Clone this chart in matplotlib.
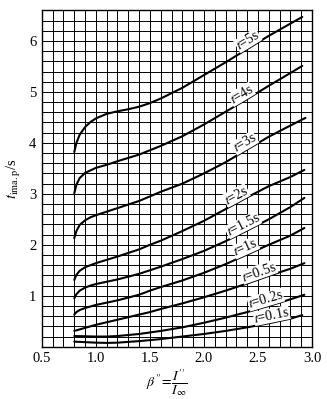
#!/usr/bin/env python3
import matplotlib
matplotlib.use("Agg")
import matplotlib.pyplot as plt
import numpy as np

plt.rcParams["font.family"] = ["Liberation Serif", "DejaVu Serif"]
plt.rcParams["mathtext.fontset"] = "stix"

# equivalent-time curves, one per short-circuit duration t
t_labels = ["5s", "4s", "3s", "2s", "1.5s", "1s", "0.5s", "0.2s", "0.1s"]

beta_5 = [0.8, 0.82, 0.85, 0.9, 0.95, 1.0, 1.1, 1.2, 1.3, 1.4, 1.5, 1.6, 1.8, 2.0, 2.2, 2.4, 2.6, 2.8, 2.91]
tima_5 = [3.82, 4.0, 4.16, 4.31, 4.41, 4.48, 4.57, 4.62, 4.66, 4.71, 4.78, 4.87, 5.08, 5.33, 5.58, 5.84, 6.10, 6.34, 6.47]

beta_4 = [0.8, 0.82, 0.85, 0.9, 0.95, 1.0, 1.1, 1.2, 1.4, 1.6, 1.8, 2.0, 2.2, 2.4, 2.6, 2.8, 2.91]
tima_4 = [3.01, 3.18, 3.31, 3.41, 3.46, 3.51, 3.57, 3.64, 3.77, 3.94, 4.13, 4.36, 4.61, 4.86, 5.12, 5.37, 5.51]

beta_3 = [0.8, 0.82, 0.85, 0.9, 0.95, 1.0, 1.1, 1.2, 1.4, 1.6, 1.8, 2.0, 2.2, 2.4, 2.6, 2.8, 2.94]
tima_3 = [2.13, 2.27, 2.39, 2.48, 2.54, 2.58, 2.65, 2.72, 2.86, 3.04, 3.20, 3.40, 3.62, 3.87, 4.12, 4.34, 4.49]

beta_2 = [0.8, 0.82, 0.85, 0.9, 0.95, 1.0, 1.2, 1.4, 1.5, 1.6, 1.8, 2.0, 2.2, 2.4, 2.6, 2.8, 2.93]
tima_2 = [1.31, 1.41, 1.49, 1.56, 1.60, 1.64, 1.77, 1.91, 2.0, 2.08, 2.27, 2.47, 2.70, 2.93, 3.15, 3.33, 3.47]

beta_15 = [0.8, 0.82, 0.85, 0.9, 0.95, 1.0, 1.2, 1.4, 1.5, 1.6, 1.8, 2.0, 2.2, 2.4, 2.6, 2.8, 2.93]
tima_15 = [0.95, 1.03, 1.10, 1.16, 1.20, 1.23, 1.32, 1.43, 1.50, 1.57, 1.72, 1.88, 2.07, 2.28, 2.50, 2.74, 2.92]

beta_1 = [0.8, 0.82, 0.85, 0.9, 1.0, 1.2, 1.4, 1.5, 1.6, 1.8, 2.0, 2.2, 2.4, 2.6, 2.8, 2.93]
tima_1 = [0.63, 0.68, 0.72, 0.76, 0.82, 0.91, 1.02, 1.10, 1.17, 1.30, 1.45, 1.62, 1.81, 2.00, 2.18, 2.33]

beta_05 = [0.8, 0.9, 1.0, 1.2, 1.4, 1.5, 1.6, 1.8, 2.0, 2.2, 2.4, 2.6, 2.8, 2.93]
tima_05 = [0.31, 0.37, 0.43, 0.53, 0.63, 0.68, 0.74, 0.85, 0.97, 1.10, 1.24, 1.39, 1.53, 1.64]

beta_02 = [0.8, 0.9, 1.0, 1.1, 1.2, 1.4, 1.5, 1.6, 1.8, 2.0, 2.2, 2.4, 2.6, 2.8, 2.93]
tima_02 = [0.21, 0.205, 0.20, 0.20, 0.21, 0.25, 0.28, 0.31, 0.38, 0.47, 0.57, 0.68, 0.80, 0.93, 1.02]

beta_01 = [0.8, 0.9, 1.0, 1.1, 1.2, 1.4, 1.5, 1.6, 1.8, 2.0, 2.2, 2.4, 2.6, 2.8, 2.91]
tima_01 = [0.10, 0.09, 0.08, 0.075, 0.08, 0.11, 0.13, 0.15, 0.20, 0.25, 0.31, 0.38, 0.46, 0.55, 0.62]

curves = [(beta_5, tima_5), (beta_4, tima_4), (beta_3, tima_3), (beta_2, tima_2),
          (beta_15, tima_15), (beta_1, tima_1), (beta_05, tima_05),
          (beta_02, tima_02), (beta_01, tima_01)]

# where each curve label sits (beta value along the curve)
label_beta = [2.44, 2.38, 2.41, 2.33, 2.39, 2.41, 2.53, 2.59, 2.64]

x_ticks = [0.5, 1.0, 1.5, 2.0, 2.5, 3.0]
y_ticks = [1, 2, 3, 4, 5, 6]


def main() -> None:
    fig = plt.figure(figsize=(3.27, 3.99), dpi=100)
    ax = fig.add_axes([0.128, 0.131, 0.826, 0.843])
    ax.set_xlim(0.5, 3.0)
    ax.set_ylim(0, 6.6)

    # millimetre-style grid
    for gx in np.arange(0.6, 3.0, 0.1):
        ax.axvline(gx, color="black", lw=0.7, zorder=1)
    for gy in np.arange(0.2, 6.6, 0.2):
        ax.axhline(gy, color="black", lw=0.7, zorder=1)

    for (bx, ty), lab, lb in zip(curves, t_labels, label_beta):
        ax.plot(bx, ty, color="black", lw=1.5, zorder=3, solid_capstyle="round")
        yl = np.interp(lb, bx, ty)
        # slope in display coords for label rotation
        p0 = ax.transData.transform((lb - 0.1, np.interp(lb - 0.1, bx, ty)))
        p1 = ax.transData.transform((lb + 0.1, np.interp(lb + 0.1, bx, ty)))
        ang = np.degrees(np.arctan2(p1[1] - p0[1], p1[0] - p0[0]))
        ax.text(lb, yl, r"$t$=" + lab, rotation=ang, rotation_mode="anchor",
                ha="center", va="bottom", fontsize=10, zorder=4,
                bbox=dict(facecolor="white", edgecolor="none", pad=0.1))

    ax.set_xticks(x_ticks)
    ax.set_xticklabels([f"{v:.1f}" for v in x_ticks])
    ax.set_yticks(y_ticks)
    ax.tick_params(length=0, labelsize=10.5, pad=4)
    for s in ax.spines.values():
        s.set_linewidth(1.0)

    ax.set_ylabel(r"$t_{\rm ima.p}$/s", fontsize=10.5, labelpad=4)
    fig.text(0.51, 0.042, r"$\beta''\!=\!\dfrac{I''}{I_\infty}$", ha="center",
             va="center", fontsize=10)

    fig.savefig("out.png", dpi=100)
    plt.close(fig)


if __name__ == "__main__":
    main()
